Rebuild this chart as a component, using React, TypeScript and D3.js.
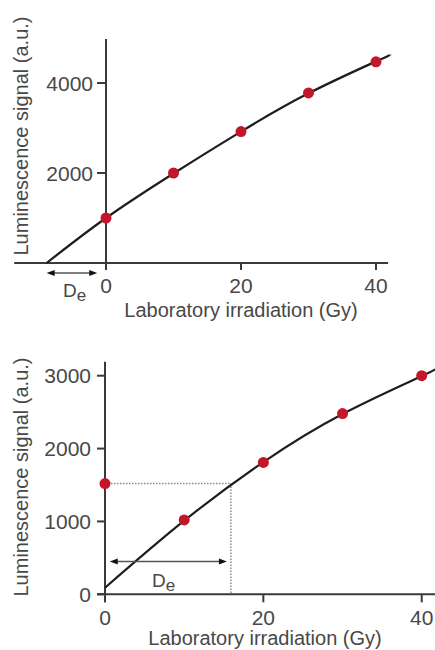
import React from "react";
import * as d3 from "d3";

// ---- Top panel data (additive dose) ----
const topDose = [0, 10, 20, 30, 40];
const topSignal = [1000, 2000, 2920, 3780, 4470];
const topFitDose = [-8.8, 0, 10, 20, 30, 40, 42.1];
const topFitSignal = [0, 1000, 1990, 2920, 3770, 4480, 4630];
const topXTicks = [0, 20, 40];
const topYTicks = [2000, 4000];
const topDe = -8.8;

// ---- Bottom panel data (regenerative dose) ----
const botDose = [0, 10, 20, 30, 40];
const botSignal = [1520, 1020, 1810, 2480, 3000];
const botFitDose = [0, 10, 20, 30, 40, 41.8];
const botFitSignal = [90, 1010, 1815, 2475, 2995, 3100];
const botXTicks = [0, 20, 40];
const botYTicks = [0, 1000, 2000, 3000];
const botNatural = 1520;
const botDe = 15.9;

const xTitle = "Laboratory irradiation (Gy)";
const yTitle = "Luminescence signal (a.u.)";

const FONT = "'Liberation Sans', Arial, Helvetica, sans-serif";
const TEXT = "#484848";
const AXIS = "#3a3a3a";
const LINE = "#1e1e1e";
const RED = "#c3162b";

function Arrow({ x1, x2, y }: { x1: number; x2: number; y: number }) {
  const h = 8, w = 3;
  return (
    <g>
      <line x1={x1 + 4} x2={x2 - 4} y1={y} y2={y} stroke="#555" strokeWidth={1.3} />
      <path d={`M${x1},${y} L${x1 + h},${y - w} L${x1 + h},${y + w} Z`} fill="#111" />
      <path d={`M${x2},${y} L${x2 - h},${y - w} L${x2 - h},${y + w} Z`} fill="#111" />
    </g>
  );
}

function DeLabel({ x, y }: { x: number; y: number }) {
  return (
    <text x={x} y={y} fontFamily={FONT} fontSize={19} fill={TEXT}>
      D
      <tspan dy={4} fontSize={17}>e</tspan>
    </text>
  );
}

function TopPanel() {
  const x = d3.scaleLinear().domain([0, 40]).range([106, 376]);
  const y = d3.scaleLinear().domain([0, 4000]).range([263, 83]);
  const line = d3
    .line<[number, number]>()
    .x((d) => x(d[0]))
    .y((d) => y(d[1]))
    .curve(d3.curveNatural);
  const fit = topFitDose.map((d, i) => [d, topFitSignal[i]] as [number, number]);
  const x0 = x(0), y0 = y(0);
  return (
    <g>
      <line x1={x(-13.6)} x2={x(41.8)} y1={y0} y2={y0} stroke={AXIS} strokeWidth={2} />
      <line x1={x0} x2={x0} y1={y(4980)} y2={y0 + 7} stroke={AXIS} strokeWidth={2} />
      {topXTicks.map((t) => (
        <g key={t}>
          <line x1={x(t)} x2={x(t)} y1={y0} y2={y0 + 7} stroke={AXIS} strokeWidth={2} />
          <text x={x(t)} y={y0 + 30} textAnchor="middle" fontFamily={FONT} fontSize={21} fill={TEXT}>
            {t}
          </text>
        </g>
      ))}
      {topYTicks.map((t) => (
        <g key={t}>
          <line x1={x0 - 9} x2={x0} y1={y(t)} y2={y(t)} stroke={AXIS} strokeWidth={2} />
          <text x={x0 - 13} y={y(t)} dy="0.36em" textAnchor="end" fontFamily={FONT} fontSize={21} fill={TEXT}>
            {t}
          </text>
        </g>
      ))}
      <text x={241} y={317} textAnchor="middle" fontFamily={FONT} fontSize={20} fill={TEXT}>
        {xTitle}
      </text>
      <text
        transform={`translate(28,136) rotate(-90)`}
        textAnchor="middle"
        fontFamily={FONT}
        fontSize={20}
        fill={TEXT}
      >
        {yTitle}
      </text>
      <path d={line(fit) || ""} fill="none" stroke={LINE} strokeWidth={2.2} />
      {topDose.map((d, i) => (
        <circle key={i} cx={x(d)} cy={y(topSignal[i])} r={5.5} fill={RED} />
      ))}
      <Arrow x1={x(topDe)} x2={x(-1.3)} y={y0 + 10} />
      <DeLabel x={63} y={297} />
    </g>
  );
}

function BottomPanel() {
  const x = d3.scaleLinear().domain([0, 40]).range([105, 421.7]);
  const y = d3.scaleLinear().domain([0, 3000]).range([594.3, 375.7]);
  const line = d3
    .line<[number, number]>()
    .x((d) => x(d[0]))
    .y((d) => y(d[1]))
    .curve(d3.curveNatural);
  const fit = botFitDose.map((d, i) => [d, botFitSignal[i]] as [number, number]);
  const x0 = x(0), y0 = y(0);
  return (
    <g>
      <line x1={x0 - 8} x2={435} y1={y0} y2={y0} stroke={AXIS} strokeWidth={2} />
      <line x1={x0} x2={x0} y1={y(3190)} y2={y0 + 8} stroke={AXIS} strokeWidth={2} />
      {botXTicks.map((t) => (
        <g key={t}>
          <line x1={x(t)} x2={x(t)} y1={y0} y2={y0 + 8} stroke={AXIS} strokeWidth={2} />
          <text x={x(t)} y={y0 + 31} textAnchor="middle" fontFamily={FONT} fontSize={21} fill={TEXT}>
            {t}
          </text>
        </g>
      ))}
      {botYTicks.map((t) => (
        <g key={t}>
          <line x1={x0 - 8} x2={x0} y1={y(t)} y2={y(t)} stroke={AXIS} strokeWidth={2} />
          <text x={x0 - 14} y={y(t)} dy="0.36em" textAnchor="end" fontFamily={FONT} fontSize={21} fill={TEXT}>
            {t}
          </text>
        </g>
      ))}
      <text x={265} y={645} textAnchor="middle" fontFamily={FONT} fontSize={20} fill={TEXT}>
        {xTitle}
      </text>
      <text
        transform={`translate(28,477) rotate(-90)`}
        textAnchor="middle"
        fontFamily={FONT}
        fontSize={20}
        fill={TEXT}
      >
        {yTitle}
      </text>
      <line x1={x0} x2={x(botDe)} y1={y(botNatural)} y2={y(botNatural)} stroke="#8a8a8a" strokeWidth={1.5} strokeDasharray="1.5,1.5" />
      <line x1={x(botDe)} x2={x(botDe)} y1={y(botNatural)} y2={y0} stroke="#8a8a8a" strokeWidth={1.5} strokeDasharray="1.5,1.5" />
      <path d={line(fit) || ""} fill="none" stroke={LINE} strokeWidth={2.2} />
      {botDose.map((d, i) => (
        <circle key={i} cx={x(d)} cy={y(botSignal[i])} r={5.5} fill={RED} />
      ))}
      <Arrow x1={x(0.6)} x2={x(15.4)} y={y(450)} />
      <DeLabel x={152} y={587} />
    </g>
  );
}

export default function App() {
  return (
    <svg
      width={435}
      height={650}
      style={{ position: "absolute", left: 0, top: 0, background: "#fff" }}
    >
      <TopPanel />
      <BottomPanel />
    </svg>
  );
}
